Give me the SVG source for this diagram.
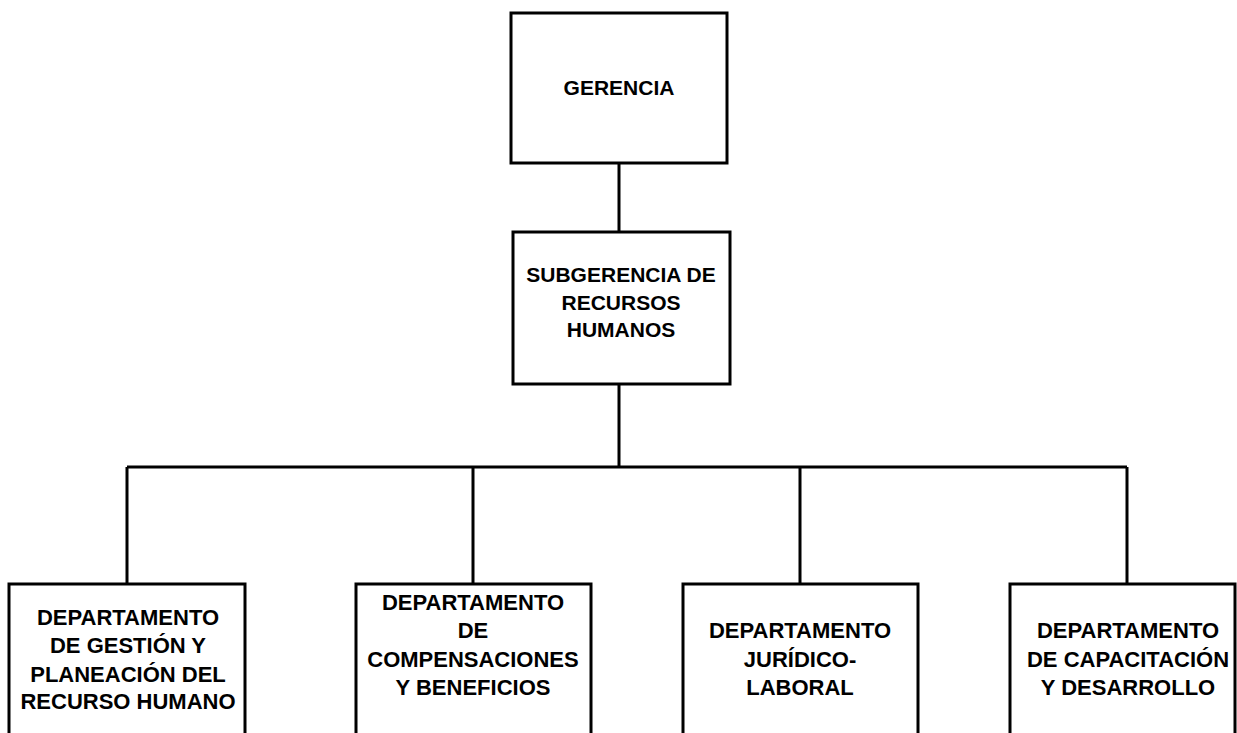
<svg xmlns="http://www.w3.org/2000/svg" width="1237" height="733" viewBox="0 0 1237 733">
<style>
.box{fill:#fff;stroke:#000;stroke-width:3}
.ln{fill:none;stroke:#000;stroke-width:3}
text{font-family:"Liberation Sans",Arial,sans-serif;font-weight:bold;fill:#000;text-anchor:middle}
.t{font-size:21px}
.b{font-size:22px}
</style>
<rect width="1237" height="733" fill="#fff"/>
<g id="connectors">
<path class="ln" d="M619 163V232M619 384V467M127 467H1127M127 467V584M473 467V584M800 467V584M1127 467V584"/>
</g>
<g id="gerencia">
<rect class="box" x="511" y="13" width="216" height="150"/>
<text class="t" x="619" y="95">GERENCIA</text>
</g>
<g id="subgerencia">
<rect class="box" x="513" y="232" width="217" height="152"/>
<text class="t" x="621" y="282">SUBGERENCIA DE</text>
<text class="t" x="621" y="310">RECURSOS</text>
<text class="t" x="621" y="337">HUMANOS</text>
</g>
<g id="dep1">
<rect class="box" x="9" y="584" width="236" height="200"/>
<text class="b" x="128" y="625">DEPARTAMENTO</text>
<text class="b" x="128" y="653">DE GESTIÓN Y</text>
<text class="b" x="128" y="682">PLANEACIÓN DEL</text>
<text class="b" x="128" y="709">RECURSO HUMANO</text>
</g>
<g id="dep2">
<rect class="box" x="356" y="584" width="235" height="200"/>
<text class="b" x="473" y="610">DEPARTAMENTO</text>
<text class="b" x="473" y="638">DE</text>
<text class="b" x="473" y="667">COMPENSACIONES</text>
<text class="b" x="473" y="695">Y BENEFICIOS</text>
</g>
<g id="dep3">
<rect class="box" x="683" y="584" width="235" height="200"/>
<text class="b" x="800" y="638">DEPARTAMENTO</text>
<text class="b" x="800" y="667">JURÍDICO-</text>
<text class="b" x="800" y="695">LABORAL</text>
</g>
<g id="dep4">
<rect class="box" x="1010" y="584" width="225" height="200"/>
<text class="b" x="1128" y="638">DEPARTAMENTO</text>
<text class="b" x="1128" y="667">DE CAPACITACIÓN</text>
<text class="b" x="1128" y="695">Y DESARROLLO</text>
</g>
</svg>
